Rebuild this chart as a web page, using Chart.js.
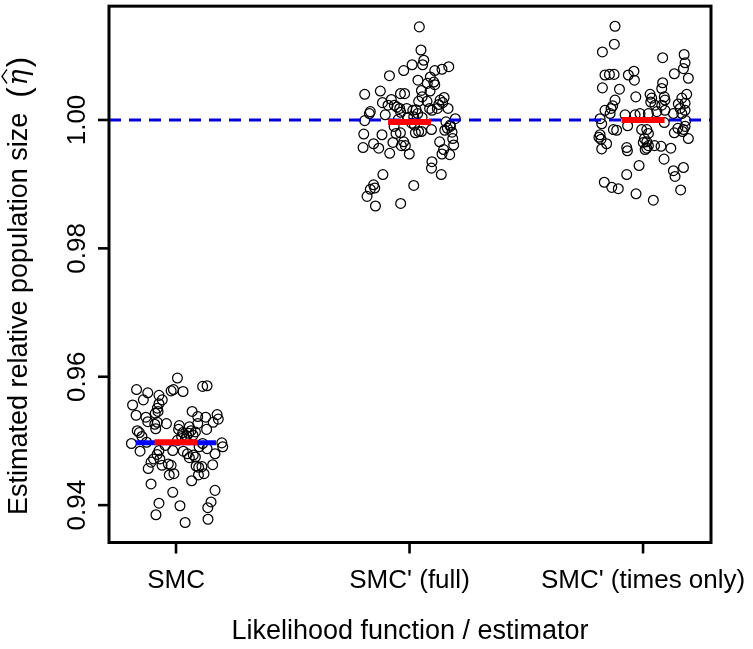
<!DOCTYPE html>
<html>
<head>
<meta charset="utf-8">
<script src="https://cdn.jsdelivr.net/npm/chart.js@4.4.0/dist/chart.umd.min.js"></script>
<style>
  html, body { margin: 0; padding: 0; background: #fff; }
  #chart-box { display: block; }
</style>
</head>
<body>
<canvas id="chart-box" width="753" height="649"></canvas>
<script>
// categories and ticks
var categories = ["SMC", "SMC' (full)", "SMC' (times only)"];
var yTicks = [0.94, 0.96, 0.98, 1.00];
var xTitle = "Likelihood function / estimator";
var yTitle = "Estimated relative population size  ";

// reference lines
var trueValue = 1.0;
var smcTarget = 0.9497;
var groupMeans = [0.9498, 0.9997, 1.0000];

// SMC: horizontal jitter (x units) and estimates
var smcJitter = [0.006,-0.169,-0.121,-0.021,-0.011,0.030,0.114,0.133,-0.140,-0.073,
  -0.059,-0.186,-0.073,-0.080,-0.089,-0.077,-0.171,-0.129,-0.121,-0.091,
  -0.080,-0.041,-0.087,0.069,0.093,0.127,0.176,0.181,0.159,0.093,
  0.131,0.014,0.011,-0.166,-0.157,-0.146,0.057,0.064,0.054,0.073,
  0.046,0.083,0.029,0.024,-0.191,0.196,0.200,-0.154,-0.073,-0.081,
  -0.014,0.031,0.049,0.074,0.057,0.083,-0.096,-0.107,-0.069,-0.060,
  -0.033,-0.021,-0.029,-0.009,0.099,0.133,0.167,-0.119,0.086,0.097,
  0.111,0.157,0.120,0.096,0.067,-0.107,-0.014,0.167,-0.073,0.017,
  0.150,0.136,-0.086,0.137,0.039,0.006,0.040,-0.126,-0.046,0.114];
var smcValues = [0.9598,0.9580,0.9575,0.9578,0.9580,0.9577,0.9585,0.9586,0.9564,0.9571,
  0.9564,0.9556,0.9558,0.9551,0.9543,0.9546,0.9540,0.9537,0.9530,0.9526,
  0.9529,0.9527,0.9519,0.9546,0.9538,0.9537,0.9541,0.9534,0.9529,0.9527,
  0.9518,0.9524,0.9518,0.9516,0.9513,0.9507,0.9522,0.9516,0.9512,0.9509,
  0.9508,0.9514,0.9513,0.9507,0.9496,0.9497,0.9491,0.9484,0.9485,0.9479,
  0.9485,0.9484,0.9480,0.9478,0.9474,0.9475,0.9472,0.9467,0.9472,0.9462,
  0.9464,0.9462,0.9447,0.9449,0.9491,0.9488,0.9480,0.9457,0.9461,0.9459,
  0.9460,0.9463,0.9449,0.9447,0.9438,0.9433,0.9420,0.9423,0.9403,0.9399,
  0.9405,0.9396,0.9385,0.9378,0.9373,0.9501,0.9503,0.9498,0.9493,0.9496];

// SMC' (full)
var fullJitter = [0.042,0.049,0.061,0.056,0.011,-0.025,-0.086,0.168,0.139,0.108,
  0.089,0.104,0.108,0.076,0.036,-0.192,-0.125,-0.039,-0.021,0.051,
  0.054,0.039,0.075,0.088,0.131,0.148,0.125,0.142,0.165,-0.116,
  -0.078,-0.092,-0.065,-0.054,-0.168,-0.172,-0.104,-0.042,-0.038,-0.012,
  0.014,0.028,0.035,0.086,0.096,0.119,0.018,0.054,0.196,-0.008,
  -0.048,-0.066,
  -0.192,0.174,0.162,0.009,0.021,0.175,0.156,
  -0.196,-0.118,-0.154,-0.199,-0.132,-0.085,-0.071,-0.058,-0.039,-0.025,
  -0.035,-0.018,-0.001,0.025,0.039,0.051,0.094,0.129,0.146,0.139,
  0.172,0.185,0.189,0.182,0.151,0.096,0.094,0.136,-0.114,-0.154,
  -0.168,-0.149,-0.182,0.018,-0.146,-0.038];
var fullValues = [1.0145,1.0109,1.0093,1.0086,1.0086,1.0077,1.0069,1.0083,1.0079,1.0077,
  1.0067,1.0059,1.0055,1.0057,1.0062,1.0040,1.0045,1.0041,1.0041,1.0046,
  1.0036,1.0029,1.0029,1.0045,1.0031,1.0035,1.0024,1.0027,1.0018,1.0027,
  1.0032,1.0023,1.0023,1.0020,1.0013,1.0010,1.0008,1.0018,1.0012,1.0018,
  1.0015,1.0016,1.0010,1.0018,1.0015,1.0018,1.0005,1.0004,1.0002,1.0004,
  1.0001,0.9990,
  0.9999,0.9992,0.9987,0.9995,0.9992,0.9990,0.9997,
  0.9978,0.9977,0.9963,0.9957,0.9956,0.9948,0.9965,0.9979,0.9980,0.9966,
  0.9960,0.9960,0.9947,0.9980,0.9982,0.9982,0.9985,0.9966,0.9954,0.9947,
  0.9946,0.9971,0.9961,0.9981,0.9984,0.9935,0.9925,0.9915,0.9915,0.9899,
  0.9892,0.9894,0.9881,0.9898,0.9866,0.9870];

// SMC' (times only)
var timesJitter = [-0.120,-0.123,-0.174,0.084,0.176,0.180,0.173,0.134,0.194,-0.163,
  -0.144,-0.124,-0.063,-0.039,-0.037,-0.174,-0.101,0.084,0.080,-0.031,
  0.030,0.037,0.033,0.051,0.091,0.094,0.080,0.094,-0.120,-0.130,
  -0.137,-0.141,-0.163,0.187,0.166,0.180,0.151,0.159,0.180,0.166,
  0.130,0.059,0.023,-0.013,-0.034,-0.077,-0.184,-0.177,-0.127,-0.113,
  -0.184,-0.180,-0.189,-0.156,-0.177,-0.070,-0.067,0.049,0.077,0.119,
  0.090,-0.017,-0.070,0.130,0.137,0.173,-0.166,-0.134,-0.106,-0.030,
  0.044,0.161,-0.066,-0.006,0.016,0.023,0.006,0.016,0.001,0.023,
  0.009,0.016,0.134,0.149,0.173,0.169,0.194,0.180,0.183,0.091];
var timesValues = [1.0146,1.0118,1.0106,1.0097,1.0102,1.0089,1.0080,1.0072,1.0065,1.0070,
  1.0071,1.0071,1.0070,1.0076,1.0062,1.0050,1.0048,1.0058,1.0049,1.0036,
  1.0040,1.0034,1.0028,1.0023,1.0036,1.0031,1.0023,1.0015,1.0031,1.0022,
  1.0018,1.0010,1.0015,1.0040,1.0034,1.0026,1.0025,1.0018,1.0015,1.0010,
  1.0010,1.0013,1.0010,1.0010,1.0008,1.0008,1.0002,0.9994,0.9985,0.9984,
  0.9977,0.9970,0.9973,0.9963,0.9955,0.9957,0.9952,0.9960,0.9959,0.9956,
  0.9939,0.9929,0.9915,0.9921,0.9912,0.9926,0.9903,0.9895,0.9893,0.9885,
  0.9875,0.9891,0.9991,0.9985,0.9985,0.9979,0.9971,0.9966,0.9965,0.9960,
  0.9954,0.9956,0.9980,0.9987,0.9985,0.9982,0.9971,0.9990,0.9999,0.9996];

var xMin = 0.713, xMax = 3.291;
var yMin = 0.93418, yMax = 1.01773;
var blueHalf = 0.171, redHalf = 0.092;
var FONT = "'Liberation Sans', Arial, Helvetica, sans-serif";

function makePoints(pos, jitter, values) {
  return values.map(function (v, i) {
    return { x: pos + jitter[i], y: v };
  });
}

function segment(pos, half, y) {
  return [{ x: pos - half, y: y }, { x: pos + half, y: y }];
}

function pointSet(data) {
  return {
    type: "scatter",
    data: data,
    pointStyle: "circle",
    pointRadius: 4.9,
    borderWidth: 1.25,
    borderColor: "#000",
    backgroundColor: "rgba(0,0,0,0)",
    order: 5,
  };
}

function lineSet(data, color, width, dash, order) {
  return {
    type: "line",
    data: data,
    borderColor: color,
    borderWidth: width,
    borderDash: dash,
    borderCapStyle: "butt",
    pointRadius: 0,
    fill: false,
    order: order,
  };
}

// box, ticks and texts, like R's base graphics
var framePlugin = {
  id: "frame",
  afterDraw: function (chart) {
    var ctx = chart.ctx;
    var a = chart.chartArea;
    var xs = chart.scales.x;
    var ys = chart.scales.y;
    ctx.save();
    ctx.strokeStyle = "#000";
    ctx.fillStyle = "#000";
    ctx.lineWidth = 3;
    ctx.strokeRect(a.left, a.top, a.right - a.left, a.bottom - a.top);

    ctx.lineWidth = 2.6;
    ctx.font = "26px " + FONT;
    yTicks.forEach(function (t) {
      var py = ys.getPixelForValue(t);
      ctx.beginPath();
      ctx.moveTo(a.left - 11, py);
      ctx.lineTo(a.left, py);
      ctx.stroke();
      ctx.save();
      ctx.translate(85, py);
      ctx.rotate(-Math.PI / 2);
      ctx.textAlign = "center";
      ctx.textBaseline = "alphabetic";
      ctx.fillText(t.toFixed(2), 0, 0);
      ctx.restore();
    });

    categories.forEach(function (c, i) {
      var px = xs.getPixelForValue(i + 1);
      ctx.beginPath();
      ctx.moveTo(px, a.bottom);
      ctx.lineTo(px, a.bottom + 11);
      ctx.stroke();
      ctx.textAlign = "center";
      ctx.textBaseline = "alphabetic";
      ctx.fillText(c, px, 588);
    });

    ctx.font = "27px " + FONT;
    ctx.fillText(xTitle, (a.left + a.right) / 2, 639);

    // y title with (eta hat)
    ctx.save();
    ctx.translate(27, 286);
    ctx.rotate(-Math.PI / 2);
    ctx.textAlign = "left";
    ctx.textBaseline = "alphabetic";
    ctx.font = "27px " + FONT;
    var w1 = ctx.measureText(yTitle).width;
    ctx.font = "31px " + FONT;
    var wp = ctx.measureText("(").width;
    ctx.font = "italic 27px 'DejaVu Serif', serif";
    var we = ctx.measureText("\u03b7").width;
    var total = w1 + 2 * wp + we + 4;
    var x = -total / 2;
    ctx.font = "27px " + FONT;
    ctx.fillText(yTitle, x, 0);
    x += w1;
    ctx.font = "31px " + FONT;
    ctx.fillText("(", x, 2);
    x += wp + 2;
    ctx.font = "italic 27px 'DejaVu Serif', serif";
    ctx.fillText("\u03b7", x, 0);
    ctx.lineWidth = 1.4;
    ctx.beginPath();
    ctx.moveTo(x + 2, -20);
    ctx.lineTo(x + we / 2 + 1, -25);
    ctx.lineTo(x + we, -20);
    ctx.stroke();
    x += we + 2;
    ctx.font = "31px " + FONT;
    ctx.fillText(")", x, 2);
    ctx.restore();

    ctx.restore();
  },
};

var ctx = document.getElementById("chart-box").getContext("2d");
var chart = new Chart(ctx, {
  type: "scatter",
  data: {
    datasets: [
      pointSet(makePoints(1, smcJitter, smcValues)),
      pointSet(makePoints(2, fullJitter, fullValues)),
      pointSet(makePoints(3, timesJitter, timesValues)),
      lineSet([{ x: xMin, y: trueValue }, { x: xMax, y: trueValue }], "#0000dd", 3, [12, 8], 3),
      lineSet(segment(1, blueHalf, smcTarget), "#0000ff", 5, [], 2),
      lineSet(segment(1, redHalf, groupMeans[0]), "#ff0000", 6, [], 1),
      lineSet(segment(2, redHalf, groupMeans[1]), "#ff0000", 6, [], 1),
      lineSet(segment(3, redHalf, groupMeans[2]), "#ff0000", 6, [], 1),
    ],
  },
  options: {
    responsive: false,
    animation: false,
    layout: { padding: { left: 109, top: 4, right: 42, bottom: 106.5 } },
    plugins: { legend: { display: false }, tooltip: { enabled: false } },
    scales: {
      x: { type: "linear", display: false, min: xMin, max: xMax },
      y: { type: "linear", display: false, min: yMin, max: yMax },
    },
  },
  plugins: [framePlugin],
});
</script>
</body>
</html>
